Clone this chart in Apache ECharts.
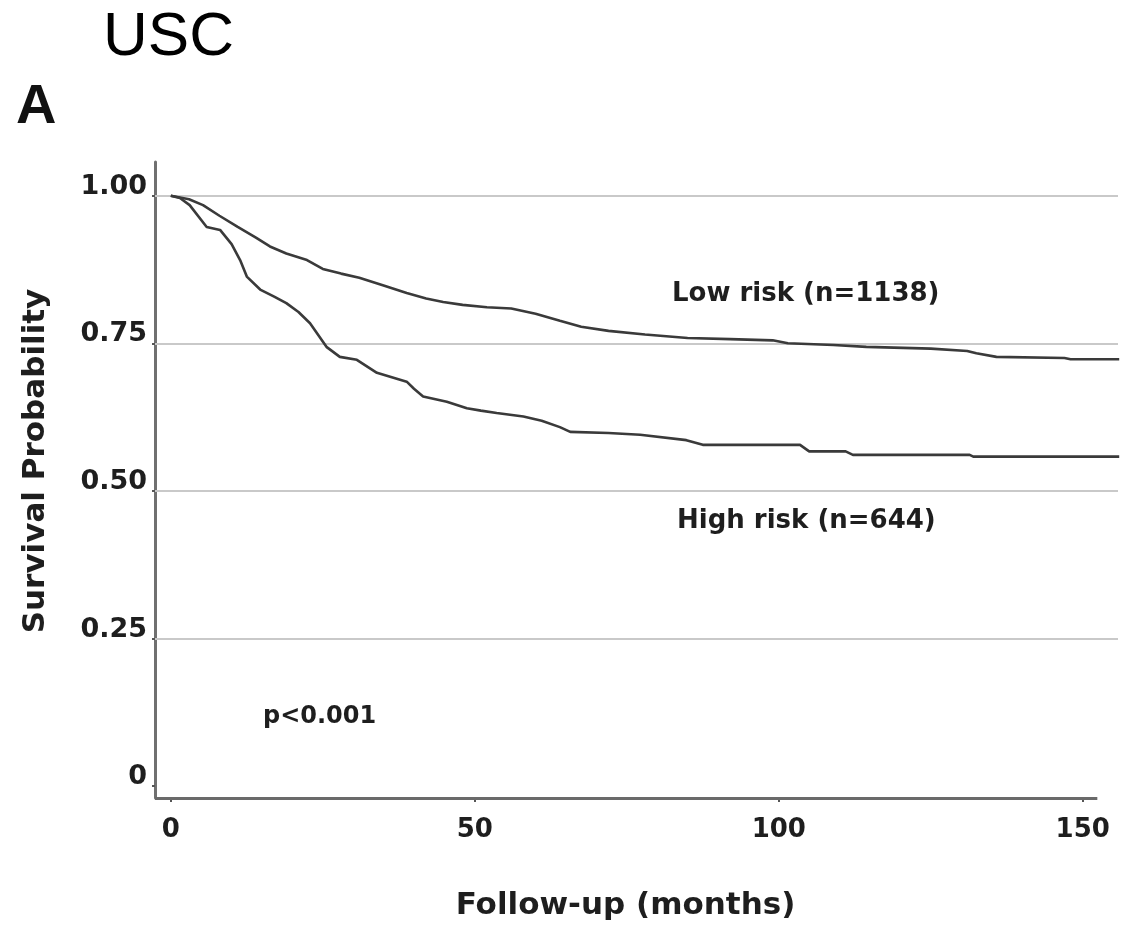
<!DOCTYPE html>
<html>
<head>
<meta charset="utf-8">
<script src="https://cdn.jsdelivr.net/npm/echarts@6/dist/echarts.min.js"></script>
<style>
  html, body { margin: 0; padding: 0; background: #fff; }
  #chart { width: 1124px; height: 929px; }
</style>
</head>
<body>
<div id="chart"></div>
<script>
// follow-up months and survival
var lowTime = [0, 3, 5.3, 8, 11, 14, 16.3, 19, 22.4, 25, 28, 31, 35, 38.8, 42, 44.8, 48, 52, 56, 60,
               64, 67.5, 72, 78, 85, 92, 99, 101.5, 109, 114.4, 125, 131, 132.5, 135.8, 147, 148, 156];
var lowSurv = [1.000, 0.994, 0.984, 0.966, 0.947, 0.929, 0.914, 0.902, 0.891, 0.876, 0.868, 0.861, 0.848, 0.835, 0.826, 0.820, 0.815, 0.811, 0.809, 0.800,
               0.788, 0.778, 0.771, 0.765, 0.759, 0.757, 0.755, 0.750, 0.747, 0.744, 0.741, 0.737, 0.733, 0.727, 0.725, 0.723, 0.723];

var highTime = [0, 1.5, 3.1, 5.9, 8.1, 10, 11.4, 12.5, 14.7, 17, 19, 21, 22.9, 25.6, 27.8, 30.6, 33.9, 38.8, 40, 41.5,
                45.4, 48.7, 51, 53.6, 58, 61, 64, 65.7, 72, 77.2, 84.8, 87.5, 103.5, 105, 111, 112.2, 131.4, 132, 156];
var highSurv = [1.000, 0.996, 0.984, 0.947, 0.942, 0.918, 0.891, 0.863, 0.841, 0.829, 0.818, 0.803, 0.784, 0.744, 0.727, 0.722, 0.700, 0.685, 0.673, 0.660,
                0.651, 0.640, 0.636, 0.632, 0.626, 0.619, 0.608, 0.600, 0.598, 0.595, 0.586, 0.578, 0.578, 0.567, 0.567, 0.561, 0.561, 0.558, 0.558];

var xTicks = [0, 50, 100, 150];
var yTicks = [0, 0.25, 0.5, 0.75, 1];
var gridValues = [0.25, 0.5, 0.75, 1];

var X_MIN = -2.6, X_MAX = 155.8, X_AXIS_END = 152.4;
var Y_MIN = -0.02, Y_MAX = 1.057;

var FONT = '"DejaVu Sans", sans-serif';
var TEXT = '#1e1e1e';
var CURVE = '#3a3a3a';

function pairs(t, s) {
    return t.map(function (v, i) { return [v, s[i]]; });
}

var chart = echarts.init(document.getElementById('chart'));

chart.setOption({
    animation: false,
    backgroundColor: '#fff',
    grid: { left: 155, right: 6, top: 162, bottom: 131, containLabel: false, outerBoundsMode: 'none' },
    xAxis: {
        type: 'value',
        min: X_MIN,
        max: X_MAX,
        name: 'Follow-up (months)',
        nameLocation: 'middle',
        nameGap: 92,
        nameTextStyle: { fontFamily: FONT, fontWeight: 'bold', fontSize: 31, color: TEXT, padding: [0, 22, 0, 0] },
        axisLine: { show: false, onZero: false },
        axisTick: { show: true, customValues: xTicks, length: 4, lineStyle: { color: '#555', width: 2 } },
        axisLabel: {
            customValues: xTicks,
            margin: 19,
            fontFamily: FONT, fontWeight: 'bold', fontSize: 26, color: TEXT
        },
        splitLine: { show: false }
    },
    yAxis: {
        type: 'value',
        min: Y_MIN,
        max: Y_MAX,
        name: 'Survival Probability',
        nameLocation: 'middle',
        nameRotate: 90,
        nameGap: 104,
        nameTextStyle: { fontFamily: FONT, fontWeight: 'bold', fontSize: 31, color: TEXT, padding: [0, 0, 0, 38] },
        axisLine: { show: true, onZero: false, lineStyle: { color: '#707070', width: 3 } },
        axisTick: { show: true, customValues: yTicks, length: 3, lineStyle: { color: '#555', width: 2 } },
        axisLabel: {
            customValues: yTicks,
            margin: 8,
            verticalAlign: 'bottom',
            lineHeight: 18,
            fontFamily: FONT, fontWeight: 'bold', fontSize: 27, color: TEXT,
            formatter: function (v) { return v === 0 ? '0' : v.toFixed(2); }
        },
        splitLine: { show: false }
    },
    series: [
        {
            name: 'Low risk',
            type: 'line',
            clip: false,
            showSymbol: false,
            silent: true,
            lineStyle: { color: CURVE, width: 2.6 },
            data: pairs(lowTime, lowSurv),
            z: 3,
            markLine: {
                silent: true,
                symbol: 'none',
                label: { show: false },
                z: 1,
                lineStyle: { color: '#c9c9c9', width: 2, type: 'solid' },
                data: gridValues.map(function (v) { return { yAxis: v }; }).concat([
                    [
                        { coord: [X_MIN, Y_MIN], lineStyle: { color: '#6a6a6a', width: 3, type: 'solid' } },
                        { coord: [X_AXIS_END, Y_MIN] }
                    ]
                ])
            }
        },
        {
            name: 'High risk',
            type: 'line',
            clip: false,
            showSymbol: false,
            silent: true,
            lineStyle: { color: CURVE, width: 2.6 },
            data: pairs(highTime, highSurv),
            z: 3
        }
    ],
    graphic: [
        { type: 'text', x: 103, y: 38, style: { text: 'USC', font: '62px "Liberation Sans", Arial, sans-serif', fill: '#000', verticalAlign: 'middle' } },
        { type: 'text', x: 16, y: 108, style: { text: 'A', font: 'bold 56px "Liberation Sans", Arial, sans-serif', fill: '#111', verticalAlign: 'middle' } },
        { type: 'text', x: 672, y: 294, style: { text: 'Low risk (n=1138)', font: 'bold 26px ' + FONT, fill: TEXT, verticalAlign: 'middle' } },
        { type: 'text', x: 677, y: 521, style: { text: 'High risk (n=644)', font: 'bold 26px ' + FONT, fill: TEXT, verticalAlign: 'middle' } },
        { type: 'text', x: 263, y: 717, style: { text: 'p<0.001', font: 'bold 24px ' + FONT, fill: TEXT, verticalAlign: 'middle' } }
    ]
});
</script>
</body>
</html>
